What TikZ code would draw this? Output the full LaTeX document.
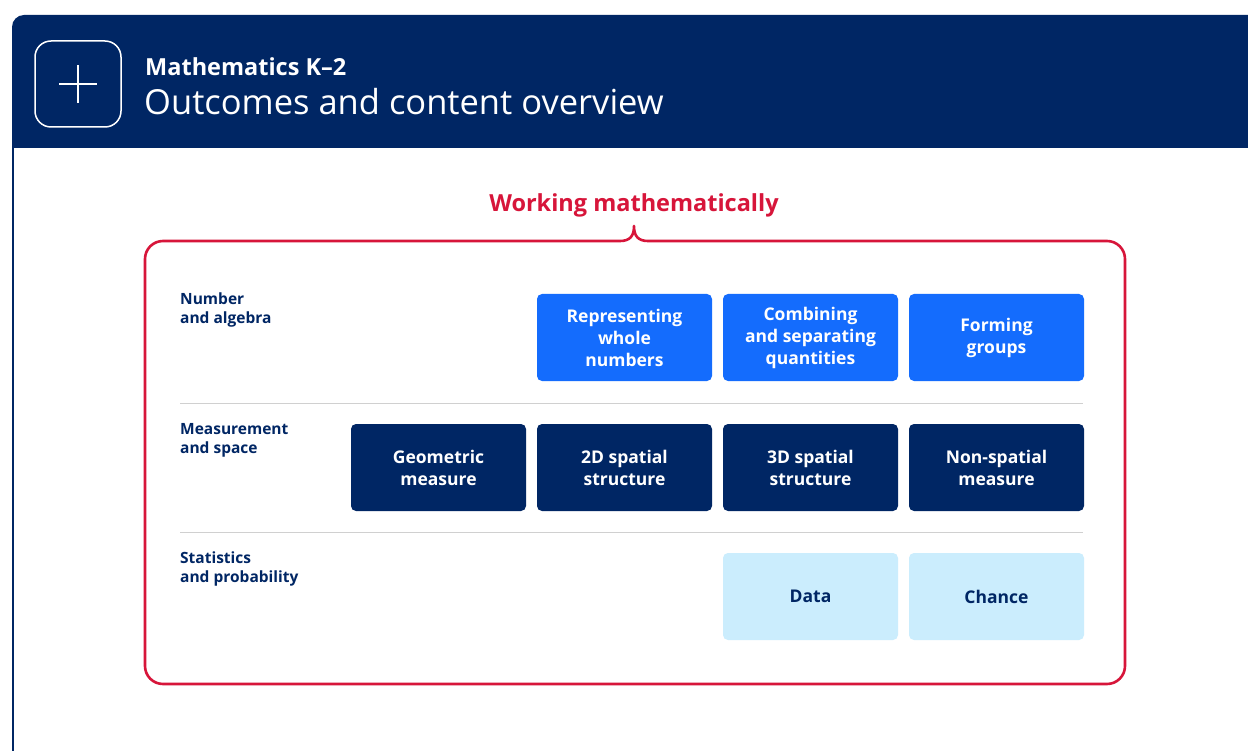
\documentclass[tikz,border=0pt]{standalone}
\usepackage{fontspec}
\setmainfont{Open Sans}
\usetikzlibrary{positioning}
\definecolor{navy}{HTML}{002664}
\definecolor{nswblue}{HTML}{146CFD}
\definecolor{paleblue}{HTML}{CBEDFD}
\definecolor{nswred}{HTML}{D7153A}
\definecolor{sepgray}{HTML}{D0D0D0}
\tikzset{
  topic/.style={rounded corners=5pt, minimum width=175pt, minimum height=87pt,
    inner sep=0pt, align=center, font=\bfseries\fontsize{17.5}{22}\selectfont},
  numbox/.style={topic, fill=nswblue, text=white},
  measbox/.style={topic, fill=navy, text=white},
  statbox/.style={topic, fill=paleblue, text=navy},
  strand/.style={anchor=north west, inner sep=0pt, align=left, text=navy,
    font=\bfseries\fontsize{15.5}{19}\selectfont},
  sepline/.style={draw=sepgray, line width=1pt}
}
\begin{document}
\begin{tikzpicture}[x=1pt,y=-1pt]
\useasboundingbox (0,0) rectangle (1248,751);
\fill[white] (0,0) rectangle (1248,751);
% header
\fill[navy, rounded corners=12pt] (12,15) rectangle (1300,148);
\fill[navy] (12,100) rectangle (60,148);
\draw[navy, line width=2pt] (13,148) -- (13,760);
% icon
\node[draw=white, line width=1.5pt, rounded corners=16pt, minimum width=86pt, minimum height=86pt, inner sep=0pt] (icon) at (78,84) {};
\draw[white, line width=1.6pt] ([xshift=-19pt]icon.center) -- ([xshift=19pt]icon.center);
\draw[white, line width=1.6pt] ([yshift=-19pt]icon.center) -- ([yshift=19pt]icon.center);
\node[anchor=base west, inner sep=0pt, text=white, font=\bfseries\fontsize{23.5}{26}\selectfont] (subj) at (145,76) {Mathematics K–2};
\node[anchor=base west, inner sep=0pt, text=white, font=\fontsize{34.5}{40}\selectfont] (ttl) at (144,115) {Outcomes and content overview};
% working mathematically
\node[text=nswred, font=\bfseries\fontsize{23.5}{28}\selectfont, inner sep=0pt] (wm) at (634,205) {Working mathematically};
\draw[nswred, line width=2.6pt, line join=round]
  (620,241) [rounded corners=18pt] -- (145,241) -- (145,684) -- (1125,684) -- (1125,241) [sharp corners] -- (648,241)
  .. controls (638,241) and (634,236) .. (634,226)
  .. controls (634,236) and (630,241) .. (620,241);
% strands
\node[strand] (na) at (180,293) {Number\\and algebra};
\node[strand] (ms) at (180,423) {Measurement\\and space};
\node[strand] (sp) at (180,552) {Statistics\\and probability};
\draw[sepline] (180,403) -- (1083,403);
\draw[sepline] (180,532) -- (1083,532);
% boxes
\node[numbox] (rep) at (624.5,337.5) {Representing\\whole\\numbers};
\node[numbox] (comb) at (810.5,337.5) {Combining\\and separating\\quantities};
\node[numbox] (form) at (996.5,337.5) {Forming\\groups};
\node[measbox] (geo) at (438.5,467.5) {Geometric\\measure};
\node[measbox] (twod) at (624.5,467.5) {2D spatial\\structure};
\node[measbox] (threed) at (810.5,467.5) {3D spatial\\structure};
\node[measbox] (nonsp) at (996.5,467.5) {Non-spatial\\measure};
\node[statbox] (data) at (810.5,596.5) {Data};
\node[statbox] (chance) at (996.5,596.5) {Chance};
\end{tikzpicture}
\end{document}
